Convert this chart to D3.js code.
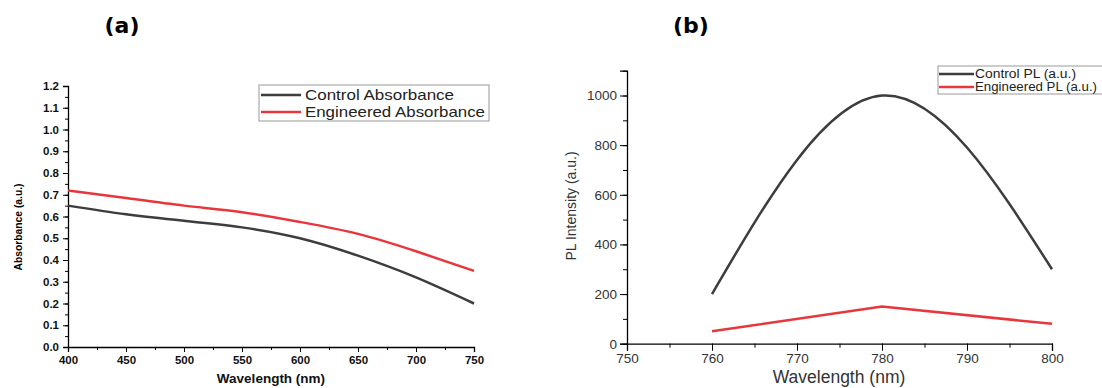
<!DOCTYPE html>
<html>
<head>
<meta charset="utf-8">
<script src="https://cdn.jsdelivr.net/npm/d3@7"></script>
<style>
  body { margin: 0; background: #fff; }
  svg { display: block; font-family: "Liberation Sans", Arial, sans-serif; }
</style>
</head>
<body>
<div id="chart"></div>
<script>
// panel (a) data
const absWavelength = [400, 450, 500, 550, 600, 650, 700, 750];
const controlAbs = [0.65, 0.61, 0.58, 0.55, 0.50, 0.42, 0.32, 0.20];
const engineeredAbs = [0.72, 0.685, 0.65, 0.62, 0.575, 0.52, 0.44, 0.35];
const absTicksX = [400, 450, 500, 550, 600, 650, 700, 750];
const absTicksY = [0, 0.1, 0.2, 0.3, 0.4, 0.5, 0.6, 0.7, 0.8, 0.9, 1.0, 1.1, 1.2];

// panel (b) data
const plWavelength = [760, 780, 800];
const controlPL = [200, 1000, 300];
const engineeredPL = [50, 150, 80];
const plTicksX = [750, 760, 770, 780, 790, 800];
const plTicksY = [0, 200, 400, 600, 800, 1000];

const width = 1102;
const height = 388;
const darkColor = "#3d3d3d";
const redColor = "#e8373c";

const svg = d3.select("#chart")
  .append("svg")
  .attr("width", width)
  .attr("height", height);

// ---------- panel (a) ----------
const xA = d3.scaleLinear().domain([400, 750]).range([68, 474]);
const yA = d3.scaleLinear().domain([0, 1.2]).range([347, 86]);

const gA = svg.append("g");

gA.append("g")
  .attr("transform", "translate(0," + yA(0) + ")")
  .call(d3.axisBottom(xA).tickValues(d3.range(400, 751, 25)).tickSize(3).tickFormat(""))
  .call(g => g.select(".domain").remove());

gA.append("g")
  .attr("transform", "translate(0," + yA(0) + ")")
  .call(d3.axisBottom(xA).tickValues(absTicksX).tickSize(5).tickPadding(4).tickFormat(d3.format("d")))
  .call(g => g.selectAll("text").style("font-size", "11.5px").style("font-weight", "bold").attr("fill", "#111"));

gA.append("g")
  .attr("transform", "translate(0," + 0 + ")")
  .attr("transform", "translate(" + xA(400) + ",0)")
  .call(d3.axisLeft(yA).tickValues(d3.range(0, 1.21, 0.05)).tickSize(3).tickFormat(""))
  .call(g => g.select(".domain").remove());

gA.append("g")
  .attr("transform", "translate(" + xA(400) + ",0)")
  .call(d3.axisLeft(yA).tickValues(absTicksY).tickSize(5).tickPadding(4).tickFormat(d3.format(".1f")))
  .call(g => g.selectAll("text").style("font-size", "11.5px").style("font-weight", "bold").attr("fill", "#111"));

gA.selectAll(".domain").attr("stroke-width", 1.3);

const lineA = d3.line()
  .x(d => xA(d[0]))
  .y(d => yA(d[1]))
  .curve(d3.curveNatural);

gA.append("path")
  .datum(d3.zip(absWavelength, controlAbs))
  .attr("d", lineA)
  .attr("fill", "none")
  .attr("stroke", darkColor)
  .attr("stroke-width", 2.5);

gA.append("path")
  .datum(d3.zip(absWavelength, engineeredAbs))
  .attr("d", lineA)
  .attr("fill", "none")
  .attr("stroke", redColor)
  .attr("stroke-width", 2.5);

gA.append("text")
  .attr("transform", "translate(22,227) rotate(-90)")
  .attr("text-anchor", "middle")
  .style("font-size", "10.3px")
  .style("font-weight", "bold")
  .text("Absorbance (a.u.)");

gA.append("text")
  .attr("x", 271)
  .attr("y", 383)
  .attr("text-anchor", "middle")
  .style("font-size", "13.5px")
  .style("font-weight", "bold")
  .attr("fill", "#111")
  .text("Wavelength (nm)");

gA.append("text")
  .attr("x", 122)
  .attr("y", 33)
  .attr("text-anchor", "middle")
  .style("font-family", "'DejaVu Sans', Verdana, sans-serif")
  .style("font-size", "22px")
  .style("font-weight", "bold")
  .text("(a)");

// legend (a)
const legA = gA.append("g").attr("transform", "translate(259,85)");
legA.append("rect")
  .attr("width", 230).attr("height", 36)
  .attr("fill", "#fff").attr("stroke", "#999").attr("stroke-width", 1);
[["Control Absorbance", darkColor, 149], ["Engineered Absorbance", redColor, 180]].forEach((d, i) => {
  legA.append("line")
    .attr("x1", 2).attr("x2", 42)
    .attr("y1", 10 + i * 17).attr("y2", 10 + i * 17)
    .attr("stroke", d[1]).attr("stroke-width", 2.5);
  legA.append("text")
    .attr("x", 46).attr("y", 10 + i * 17)
    .attr("dy", "0.35em")
    .attr("textLength", d[2])
    .attr("lengthAdjust", "spacingAndGlyphs")
    .style("font-size", "15px")
    .attr("fill", "#222")
    .text(d[0]);
});

// ---------- panel (b) ----------
const xB = d3.scaleLinear().domain([750, 800]).range([627, 1052]);
const yB = d3.scaleLinear().domain([0, 1100]).range([343.7, 70.7]);

const gB = svg.append("g");

gB.append("g")
  .attr("transform", "translate(0," + yB(0) + ")")
  .call(d3.axisBottom(xB).tickValues(d3.range(750, 801, 5)).tickSize(4).tickFormat(""))
  .call(g => g.select(".domain").remove());

gB.append("g")
  .attr("transform", "translate(0," + yB(0) + ")")
  .call(d3.axisBottom(xB).tickValues(plTicksX).tickSize(7).tickPadding(3).tickFormat(d3.format("d")))
  .call(g => g.selectAll("text").style("font-size", "13.5px").attr("fill", "#333"));

gB.append("g")
  .attr("transform", "translate(" + xB(750) + ",0)")
  .call(d3.axisLeft(yB).tickValues(d3.range(0, 1101, 100)).tickSize(4).tickFormat(""))
  .call(g => g.select(".domain").remove());

gB.append("g")
  .attr("transform", "translate(" + xB(750) + ",0)")
  .call(d3.axisLeft(yB).tickValues(plTicksY).tickSize(7).tickPadding(3).tickFormat(d3.format("d")))
  .call(g => g.selectAll("text").style("font-size", "13.5px").attr("fill", "#333"));

gB.selectAll(".domain").attr("stroke-width", 1.3);

gB.append("path")
  .datum(d3.zip(plWavelength, controlPL))
  .attr("d", d3.line().x(d => xB(d[0])).y(d => yB(d[1])).curve(d3.curveNatural))
  .attr("fill", "none")
  .attr("stroke", darkColor)
  .attr("stroke-width", 2.5);

gB.append("path")
  .datum(d3.zip(plWavelength, engineeredPL))
  .attr("d", d3.line().x(d => xB(d[0])).y(d => yB(d[1])))
  .attr("fill", "none")
  .attr("stroke", redColor)
  .attr("stroke-width", 2.5);

gB.append("text")
  .attr("transform", "translate(576,206) rotate(-90)")
  .attr("text-anchor", "middle")
  .style("font-size", "14px")
  .attr("fill", "#333")
  .text("PL Intensity (a.u.)");

gB.append("text")
  .attr("x", 839)
  .attr("y", 383)
  .attr("text-anchor", "middle")
  .style("font-size", "17.5px")
  .attr("fill", "#333")
  .text("Wavelength (nm)");

gB.append("text")
  .attr("x", 691)
  .attr("y", 33)
  .attr("text-anchor", "middle")
  .style("font-family", "'DejaVu Sans', Verdana, sans-serif")
  .style("font-size", "22px")
  .style("font-weight", "bold")
  .text("(b)");

// legend (b)
const legB = gB.append("g").attr("transform", "translate(938,66)");
legB.append("rect")
  .attr("width", 166).attr("height", 28)
  .attr("fill", "#fff").attr("stroke", "#999").attr("stroke-width", 1);
[["Control PL (a.u.)", darkColor, 101], ["Engineered PL (a.u.)", redColor, 122]].forEach((d, i) => {
  legB.append("line")
    .attr("x1", 1).attr("x2", 36)
    .attr("y1", 8 + i * 13).attr("y2", 8 + i * 13)
    .attr("stroke", d[1]).attr("stroke-width", 2.5);
  legB.append("text")
    .attr("x", 37).attr("y", 8 + i * 13)
    .attr("dy", "0.35em")
    .attr("textLength", d[2])
    .attr("lengthAdjust", "spacingAndGlyphs")
    .style("font-size", "12px")
    .attr("fill", "#222")
    .text(d[0]);
});
</script>
</body>
</html>
